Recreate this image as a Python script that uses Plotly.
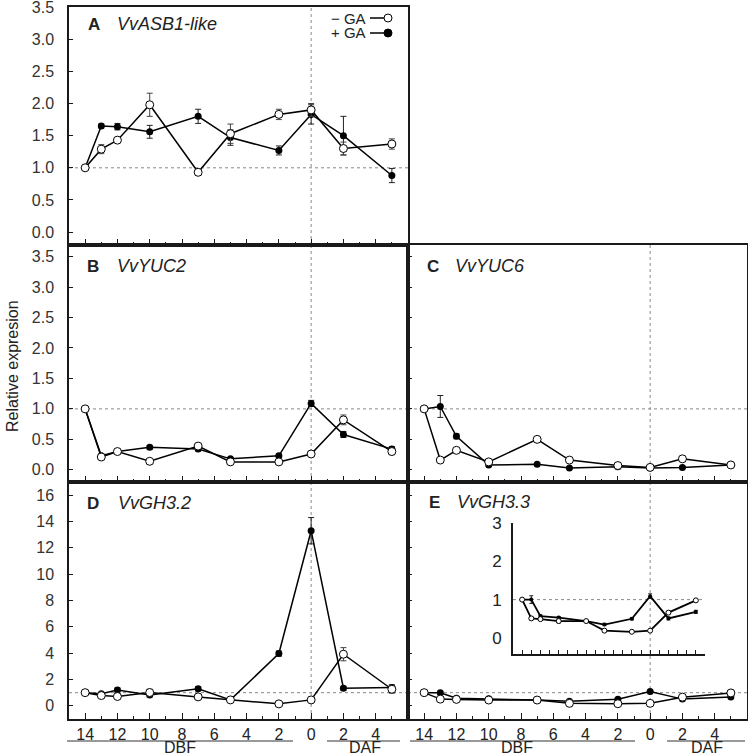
import plotly.graph_objects as go

# ---------------- data ----------------
days = [-14, -13, -12, -10, -7, -5, -2, 0, 2, 5]
x_tick_vals = [-14, -12, -10, -8, -6, -4, -2, 0, 2, 4]
x_tick_text = ["14", "12", "10", "8", "6", "4", "2", "0", "2", "4"]
x_minor_vals = [-13, -11, -9, -7, -5, -3, -1, 1, 3, 5]

asb1_minus = [1.0, 1.29, 1.43, 1.98, 0.93, 1.53, 1.83, 1.90, 1.30, 1.37]
asb1_minus_err = [0, 0.07, 0.03, 0.18, 0.05, 0.15, 0.08, 0.10, 0.10, 0.08]
asb1_plus = [1.0, 1.65, 1.64, 1.56, 1.80, 1.47, 1.27, 1.83, 1.50, 0.88]
asb1_plus_err = [0, 0.03, 0.05, 0.10, 0.11, 0.12, 0.07, 0.15, 0.30, 0.11]

yuc2_minus = [1.0, 0.21, 0.30, 0.14, 0.39, 0.13, 0.13, 0.26, 0.82, 0.30]
yuc2_minus_err = [0, 0.03, 0.02, 0.02, 0.03, 0.02, 0.02, 0.02, 0.08, 0.05]
yuc2_plus = [1.0, 0.23, 0.30, 0.37, 0.34, 0.18, 0.23, 1.09, 0.58, 0.34]
yuc2_plus_err = [0, 0.03, 0.03, 0.03, 0.03, 0.02, 0.03, 0.05, 0.05, 0.04]

yuc6_minus = [1.0, 0.16, 0.32, 0.13, 0.50, 0.16, 0.07, 0.04, 0.18, 0.08]
yuc6_minus_err = [0, 0.02, 0.02, 0.02, 0.02, 0.02, 0.01, 0.01, 0.02, 0.02]
yuc6_plus = [1.0, 1.04, 0.55, 0.08, 0.09, 0.03, 0.05, 0.03, 0.04, 0.08]
yuc6_plus_err = [0, 0.18, 0.04, 0.02, 0.02, 0.01, 0.01, 0.01, 0.01, 0.02]

gh32_minus = [1.0, 0.78, 0.71, 1.01, 0.68, 0.45, 0.15, 0.45, 3.92, 1.26]
gh32_minus_err = [0, 0.1, 0.1, 0.25, 0.1, 0.05, 0.05, 0.1, 0.5, 0.3]
gh32_plus = [1.0, 0.91, 1.21, 0.83, 1.29, 0.45, 3.97, 13.3, 1.34, 1.40]
gh32_plus_err = [0, 0.1, 0.15, 0.15, 0.15, 0.1, 0.2, 1.0, 0.15, 0.2]

gh33_minus = [1.0, 0.51, 0.49, 0.44, 0.44, 0.19, 0.16, 0.19, 0.66, 0.98]
gh33_minus_err = [0, 0.04, 0.02, 0.05, 0.02, 0.02, 0.02, 0.02, 0.03, 0.03]
gh33_plus = [1.0, 1.00, 0.57, 0.53, 0.44, 0.35, 0.50, 1.09, 0.51, 0.68]
gh33_plus_err = [0, 0.1, 0.03, 0.03, 0.03, 0.03, 0.03, 0.06, 0.04, 0.04]

# ---------------- layout helpers ----------------
W, H = 748, 756
FONT = "Liberation Sans, Arial, sans-serif"
TXT = "#222222"
AX = "#1a1a1a"


def fx(px):
    return px / W


def fy(py):
    return 1 - py / H


L0, L1 = 69, 408
R0, R1 = 408, 747
panels = {
    "A": ("", (L0, L1), (7, 245), [-0.2, 3.5], 0.5, True, False),
    "B": ("2", (L0, L1), (245, 482), [-0.2, 3.69], 0.5, True, False),
    "C": ("3", (R0, R1), (245, 482), [-0.2, 3.69], 0.5, False, False),
    "D": ("4", (L0, L1), (482, 719), [-1, 17], 2, True, True),
    "E": ("5", (R0, R1), (482, 719), [-1, 17], 2, False, True),
}

fig = go.Figure()

series = {
    "A": (asb1_minus, asb1_minus_err, asb1_plus, asb1_plus_err),
    "B": (yuc2_minus, yuc2_minus_err, yuc2_plus, yuc2_plus_err),
    "C": (yuc6_minus, yuc6_minus_err, yuc6_plus, yuc6_plus_err),
    "D": (gh32_minus, gh32_minus_err, gh32_plus, gh32_plus_err),
    "E": (gh33_minus, gh33_minus_err, gh33_plus, gh33_plus_err),
}


def add_pair(suffix, minus, minus_err, plus, plus_err, msize, lw, ew):
    xa = "x" + suffix
    ya = "y" + suffix
    fig.add_trace(go.Scatter(
        x=days, y=plus, xaxis=xa, yaxis=ya, mode="lines+markers",
        line=dict(color="black", width=lw),
        marker=dict(symbol="circle", size=msize, color="black"),
        error_y=dict(type="data", array=plus_err, visible=True, color="#222", thickness=1, width=ew),
        showlegend=False, cliponaxis=False))
    fig.add_trace(go.Scatter(
        x=days, y=minus, xaxis=xa, yaxis=ya, mode="lines+markers",
        line=dict(color="black", width=lw),
        marker=dict(symbol="circle", size=msize + 1, color="white", line=dict(color="black", width=1)),
        error_y=dict(type="data", array=minus_err, visible=True, color="#444", thickness=1, width=ew),
        showlegend=False, cliponaxis=False))


for key, (suf, (xp0, xp1), (yp0, yp1), yr, ydt, showy, showx) in panels.items():
    m, me, p, pe = series[key]
    add_pair(suf, m, me, p, pe, 7, 1.5, 3)

# inset for E
add_pair("6", gh33_minus, gh33_minus_err, gh33_plus, gh33_plus_err, 4, 1.8, 2)

layout = dict(
    width=W, height=H, margin=dict(l=0, r=0, t=0, b=0, autoexpand=False),
    paper_bgcolor="white", plot_bgcolor="rgba(0,0,0,0)",
    font=dict(family=FONT, color=TXT, size=16),
    showlegend=False,
)

shapes = []
annotations = []

for key, (suf, (xp0, xp1), (yp0, yp1), yr, ydt, showy, showx) in panels.items():
    xname = "xaxis" + suf
    yname = "yaxis" + suf
    layout[xname] = dict(
        domain=[fx(xp0), fx(xp1)], range=[-15, 6], anchor="y" + suf,
        showline=True, linecolor=AX, linewidth=1.5, mirror=True,
        ticks="inside", ticklen=6, tickwidth=1.2, tickcolor=AX,
        tickmode="array", tickvals=x_tick_vals, ticktext=x_tick_text,
        showticklabels=showx, tickfont=dict(size=16, color=TXT),
        ticklabelstandoff=0, automargin=False, ticklabeloverflow="allow",
        minor=dict(ticks="inside", ticklen=3, tickwidth=1.2, tickcolor=AX,
                   tickmode="array", tickvals=x_minor_vals),
        showgrid=False, zeroline=False, fixedrange=True,
    )
    layout[yname] = dict(
        domain=[fy(yp1), fy(yp0)], range=yr, anchor="x" + suf,
        showline=True, linecolor=AX, linewidth=1.5, mirror=True,
        ticks="inside", ticklen=4, tickwidth=1.2, tickcolor=AX,
        tick0=0, dtick=ydt, tickformat=".1f" if ydt < 1 else "d",
        showticklabels=showy, tickfont=dict(size=16, color="#333"),
        ticklabelstandoff=10, automargin=False, ticklabeloverflow="allow",
        showgrid=False, zeroline=False, fixedrange=True,
    )
    shapes.append(dict(type="line", xref="x" + suf, yref="y" + suf + " domain",
                       x0=0, x1=0, y0=0, y1=1, layer="below",
                       line=dict(color="#888", width=1, dash="dot")))
    shapes.append(dict(type="line", xref="x" + suf + " domain", yref="y" + suf,
                       x0=0, x1=1, y0=1, y1=1, layer="below",
                       line=dict(color="#888", width=1, dash="dot")))

# inset axes
layout["xaxis6"] = dict(
    domain=[fx(513), fx(705)], range=[-15, 6], anchor="y6",
    showline=True, linecolor=AX, linewidth=2, mirror=False,
    ticks="inside", ticklen=4, tickwidth=1.2, tickcolor=AX,
    tickmode="linear", tick0=0, dtick=1, showticklabels=False, automargin=False,
    showgrid=False, zeroline=False, fixedrange=True,
)
layout["yaxis6"] = dict(
    domain=[fy(654), fy(523)], range=[-0.42, 3], anchor="x6",
    showline=True, linecolor=AX, linewidth=2, mirror=False,
    ticks="", tickmode="linear", tick0=0, dtick=1, automargin=False,
    showticklabels=True, tickfont=dict(size=17, color=TXT), ticklabelstandoff=6,
    ticklabeloverflow="allow",
    showgrid=False, zeroline=False, fixedrange=True,
)
shapes.append(dict(type="line", xref="x6", yref="y6", x0=-15, x1=6, y0=1, y1=1,
                   layer="below", line=dict(color="#888", width=1, dash="dot")))

labels = [
    ("A", "VvASB1-like", 86, 115, 24),
    ("B", "VvYUC2", 85, 115, 266),
    ("C", "VvYUC6", 425, 453, 266),
    ("D", "VvGH3.2", 85, 116, 503),
    ("E", "VvGH3.3", 427, 455, 502),
]
for letter, gene, lx, gx, ly in labels:
    annotations.append(dict(text="<b>" + letter + "</b>", x=fx(lx), y=fy(ly), xref="paper", yref="paper",
                            xanchor="left", yanchor="middle", showarrow=False,
                            font=dict(size=17, color=TXT)))
    annotations.append(dict(text="<i>" + gene + "</i>", x=fx(gx), y=fy(ly), xref="paper", yref="paper",
                            xanchor="left", yanchor="middle", showarrow=False,
                            font=dict(size=18, color=TXT)))

for txt, py, filled in [("\u2212 GA", 18, False), ("+ GA", 33, True)]:
    annotations.append(dict(text=txt, x=fx(368), y=fy(py), xref="paper", yref="paper",
                            xanchor="right", yanchor="middle", showarrow=False,
                            font=dict(size=15, color=TXT)))
    shapes.append(dict(type="line", xref="paper", yref="paper",
                       x0=fx(370), x1=fx(385), y0=fy(py), y1=fy(py),
                       line=dict(color="black", width=1.5)))
    shapes.append(dict(type="circle", xref="paper", yref="paper",
                       x0=fx(384), x1=fx(392), y0=fy(py + 4), y1=fy(py - 4),
                       fillcolor="black" if filled else "white",
                       line=dict(color="black", width=1)))

for (a, b) in [(67, 293), (327, 400), (410, 635), (667, 745)]:
    shapes.append(dict(type="line", xref="paper", yref="paper",
                       x0=fx(a), x1=fx(b), y0=fy(741), y1=fy(741),
                       line=dict(color="#333", width=1)))
dbf_centers = [(180, "DBF"), (365, "DAF"), (517, "DBF"), (707, "DAF")]
for cx, t in dbf_centers:
    annotations.append(dict(text=t, x=fx(cx), y=fy(747), xref="paper", yref="paper",
                            xanchor="center", yanchor="middle", showarrow=False,
                            font=dict(size=16, color=TXT)))

annotations.append(dict(text="Relative expresion", x=fx(12), y=fy(366), xref="paper", yref="paper",
                        xanchor="center", yanchor="middle", textangle=-90, showarrow=False,
                        font=dict(size=16, color=TXT)))

layout["shapes"] = shapes
layout["annotations"] = annotations
fig.update_layout(**layout)
fig.write_html("out.html", config={"displayModeBar": False},
               post_script="document.body.style.margin='0';document.body.style.overflow='hidden';")
